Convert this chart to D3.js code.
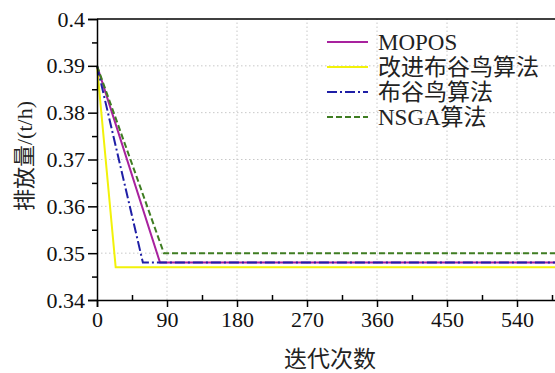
<!DOCTYPE html>
<html>
<head>
<meta charset="utf-8">
<script src="https://cdn.jsdelivr.net/npm/d3@7"></script>
<style>
  body { margin: 0; background: #fff; }
  svg text { font-family: "Liberation Serif", "Noto Sans CJK SC", serif; }
</style>
</head>
<body>
<svg id="chart" width="555" height="373"></svg>
<script>
// series data: [iteration, emission]
const seriesNames = ['MOPOS', '改进布谷鸟算法', '布谷鸟算法', 'NSGA算法'];
const moposData = [[0, 0.39], [81, 0.348], [600, 0.348]];
const improvedData = [[0, 0.39], [24, 0.347], [600, 0.347]];
const cuckooData = [[0, 0.39], [59, 0.348], [600, 0.348]];
const nsgaData = [[0, 0.39], [86, 0.35], [600, 0.35]];
const xTicks = [0, 90, 180, 270, 360, 450, 540];
const yTicks = [0.34, 0.35, 0.36, 0.37, 0.38, 0.39, 0.4];

const svg = d3.select('#chart');
const margin = { left: 97, top: 19, bottom: 300 };

const x = d3.scaleLinear().domain([0, 600]).range([margin.left, margin.left + 600 * 70 / 90]);
const y = d3.scaleLinear().domain([0.34, 0.4]).range([margin.bottom, margin.top]);

// grid
const grid = svg.append('g');
xTicks.slice(1).forEach(t => {
  grid.append('line').attr('x1', x(t)).attr('x2', x(t)).attr('y1', y(0.34)).attr('y2', y(0.4))
    .attr('stroke', '#c8c8c8').attr('stroke-width', 1).attr('stroke-dasharray', '1.5,2.5');
});
yTicks.slice(1, -1).forEach(t => {
  grid.append('line').attr('x1', x(0)).attr('x2', x(600)).attr('y1', y(t)).attr('y2', y(t))
    .attr('stroke', '#c8c8c8').attr('stroke-width', 1).attr('stroke-dasharray', '1.5,2.5');
});

const line = d3.line().x(d => x(d[0])).y(d => y(d[1]));

const series = [
  { data: improvedData, color: '#f2f20a', dash: null, name: seriesNames[1] },
  { data: moposData, color: '#a8229e', dash: null, name: seriesNames[0] },
  { data: cuckooData, color: '#1f1fa6', dash: '10,3,2,3', name: seriesNames[2] },
  { data: nsgaData, color: '#3f7d22', dash: '6,3', name: seriesNames[3] }
];

series.forEach(s => {
  svg.append('path').datum(s.data).attr('d', line)
    .attr('fill', 'none').attr('stroke', s.color).attr('stroke-width', 2)
    .attr('stroke-dasharray', s.dash);
});

// axes
const xAxis = svg.append('g').attr('transform', `translate(0,${y(0.34)})`)
  .call(d3.axisBottom(x).tickValues(xTicks).tickSize(7).tickPadding(4));
const xMinor = svg.append('g').attr('transform', `translate(0,${y(0.34)})`)
  .call(d3.axisBottom(x).tickValues(d3.range(45, 600, 90)).tickSize(-5).tickFormat(''));
const yAxis = svg.append('g').attr('transform', `translate(${x(0)},0)`)
  .call(d3.axisLeft(y).tickValues(yTicks).tickSize(9).tickPadding(3).tickFormat(d3.format('~g')));
const yMinor = svg.append('g').attr('transform', `translate(${x(0)},0)`)
  .call(d3.axisLeft(y).tickValues(d3.range(0.345, 0.4, 0.01)).tickSize(5).tickFormat(''));

[xAxis, xMinor, yAxis, yMinor].forEach(g => {
  g.selectAll('.domain').attr('stroke', '#000').attr('stroke-width', 1.5);
  g.selectAll('.tick line').attr('stroke', '#000').attr('stroke-width', 1.5);
  g.selectAll('text').attr('font-size', 22).attr('fill', '#111')
    .attr('font-family', '"Liberation Serif", serif');
});
xMinor.select('.domain').remove();
yMinor.select('.domain').remove();

// top frame
svg.append('line').attr('x1', x(0)).attr('x2', 555).attr('y1', y(0.4)).attr('y2', y(0.4))
  .attr('stroke', '#000').attr('stroke-width', 1.5);

// axis titles
svg.append('text').attr('x', 330).attr('y', 367)
  .attr('text-anchor', 'middle').attr('font-size', 23).attr('fill', '#222')
  .text('迭代次数');
svg.append('text').attr('transform', 'translate(32,156) rotate(-90)')
  .attr('text-anchor', 'middle').attr('font-size', 22).attr('fill', '#222')
  .text('排放量/(t/h)');

// legend
const legendOrder = [series[1], series[0], series[2], series[3]];
const legend = svg.append('g').attr('transform', 'translate(327,42)');
legendOrder.forEach((s, i) => {
  const g = legend.append('g').attr('transform', `translate(0,${i * 25})`);
  g.append('line').attr('x1', 0).attr('x2', 41).attr('y1', 0).attr('y2', 0)
    .attr('stroke', s.color).attr('stroke-width', 2).attr('stroke-dasharray', s.dash);
  g.append('text').attr('x', 51).attr('y', 8).attr('font-size', 23).attr('fill', '#222')
    .text(s.name);
});
</script>
</body>
</html>
